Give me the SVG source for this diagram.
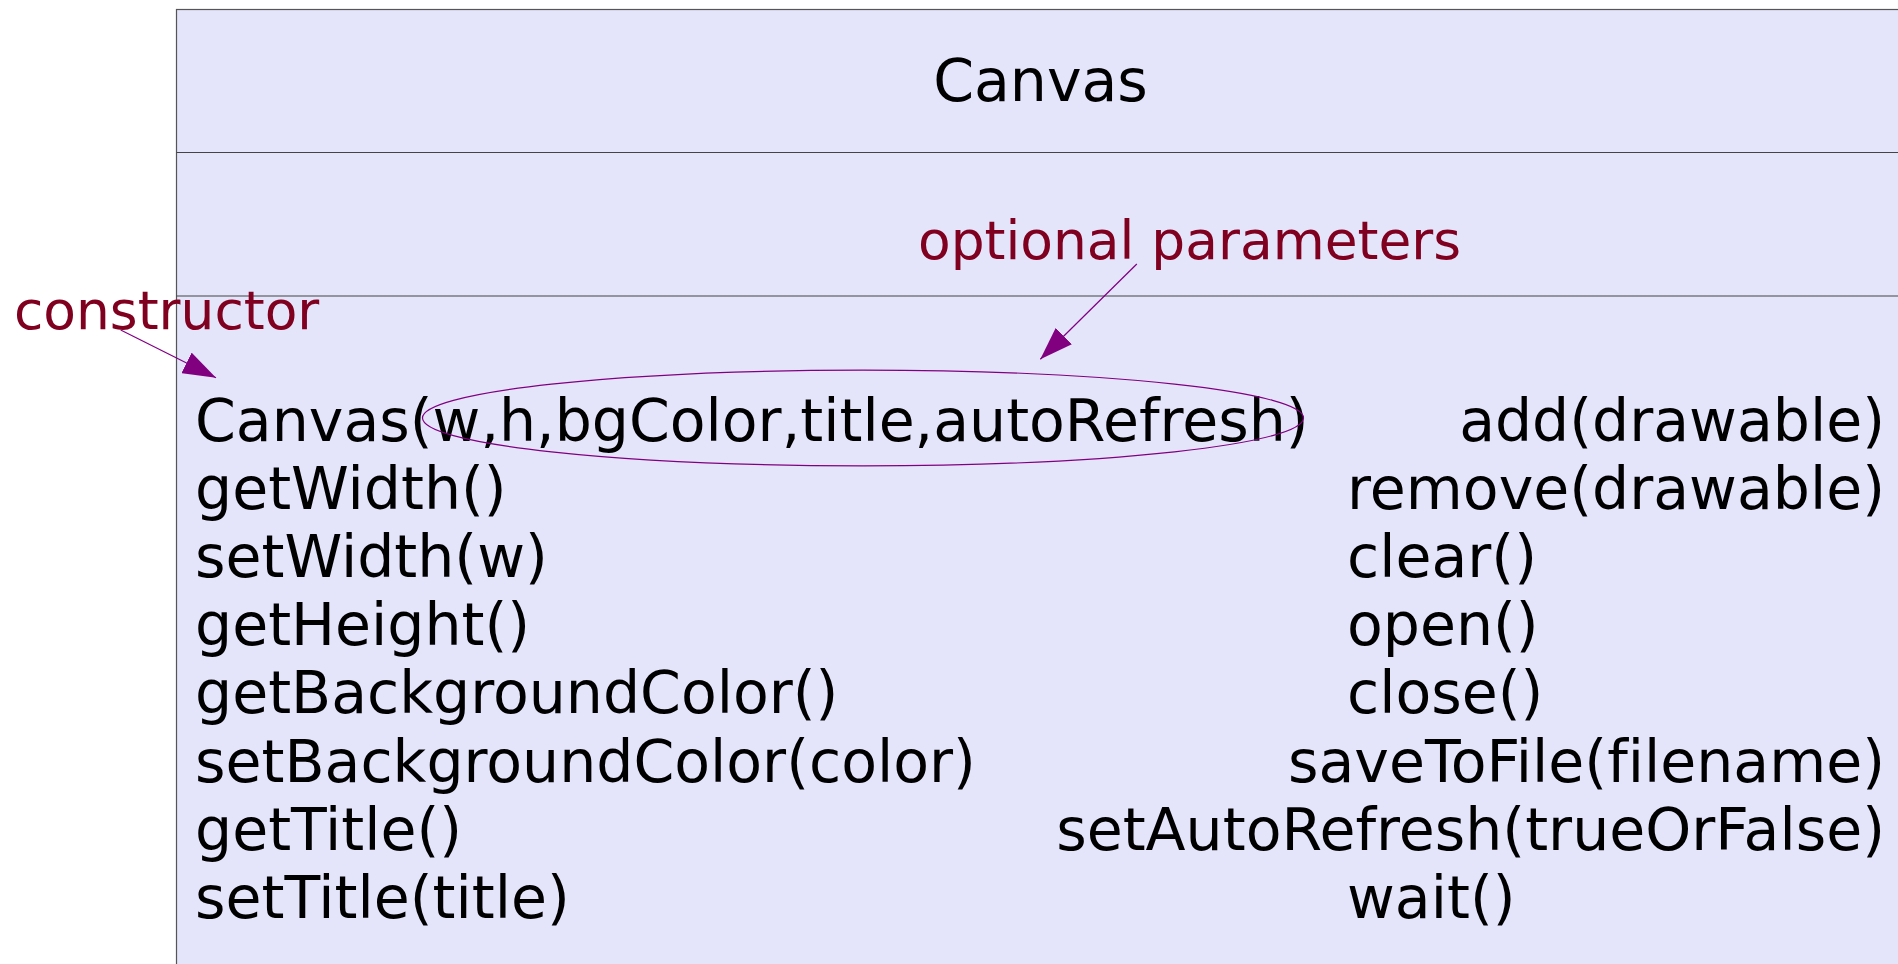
<svg xmlns="http://www.w3.org/2000/svg" width="1898" height="964" viewBox="0 0 1898 964">
  <style>
    .box { fill: #E4E4FB; stroke: #555555; stroke-width: 1.2; }
    .div { stroke: #444444; stroke-width: 1.2; }
    .code { font-family: "DejaVu Sans", sans-serif; font-size: 58.5px; fill: #000000; font-variant-ligatures: none; }
    .note { font-family: "DejaVu Sans", sans-serif; font-size: 53.4px; fill: #800020; }
    .arrow { stroke: #800080; stroke-width: 1.2; fill: none; }
    .end { text-anchor: end; }
  </style>
  <defs>
    <marker id="ah" viewBox="0 0 33 23" refX="33" refY="11.5" markerWidth="33" markerHeight="23" markerUnits="userSpaceOnUse" orient="auto">
      <path d="M0,0 L33,11.5 L0,23 z" fill="#800080"/>
    </marker>
  </defs>
  <rect width="1898" height="964" fill="#FFFFFF"/>
  <g id="canvas-class">
    <rect class="box" x="176.5" y="9.5" width="1800" height="1000"/>
    <line class="div" x1="176.5" y1="152.5" x2="1898" y2="152.5"/>
    <line class="div" x1="176.5" y1="296" x2="1898" y2="296"/>
    <text class="code" x="1040.5" y="101" text-anchor="middle">Canvas</text>
    <g id="left-methods">
      <text class="code" x="195" y="441">Canvas(w,h,bgColor,title,autoRefresh)</text>
      <text class="code" x="195" y="509">getWidth()</text>
      <text class="code" x="195" y="577">setWidth(w)</text>
      <text class="code" x="195" y="645">getHeight()</text>
      <text class="code" x="195" y="713">getBackgroundColor()</text>
      <text class="code" x="195" y="781.5">setBackgroundColor(color)</text>
      <text class="code" x="195" y="850">getTitle()</text>
      <text class="code" x="195" y="918">setTitle(title)</text>
    </g>
    <g id="right-methods">
      <text class="code end" x="1885" y="441">add(drawable)</text>
      <text class="code end" x="1885" y="509">remove(drawable)</text>
      <text class="code" x="1347" y="577">clear()</text>
      <text class="code" x="1347" y="645">open()</text>
      <text class="code" x="1347" y="713">close()</text>
      <text class="code end" x="1885" y="781.5">saveToFile(filename)</text>
      <text class="code end" x="1885" y="850">setAutoRefresh(trueOrFalse)</text>
      <text class="code" x="1347" y="918">wait()</text>
    </g>
  </g>
  <g id="ellipse-optional">
    <ellipse cx="863" cy="418" rx="440.5" ry="47.8" fill="none" stroke="#800080" stroke-width="1.2"/>
  </g>
  <g id="label-constructor">
    <text class="note" x="14" y="328.5">constructor</text>
  </g>
  <g id="label-optional">
    <text class="note" x="918" y="258.5">optional parameters</text>
  </g>
  <g id="connectors">
    <line class="arrow" x1="120.7" y1="330" x2="216" y2="377.7" marker-end="url(#ah)"/>
    <line class="arrow" x1="1136.8" y1="264" x2="1040.3" y2="359.3" marker-end="url(#ah)"/>
  </g>
</svg>
